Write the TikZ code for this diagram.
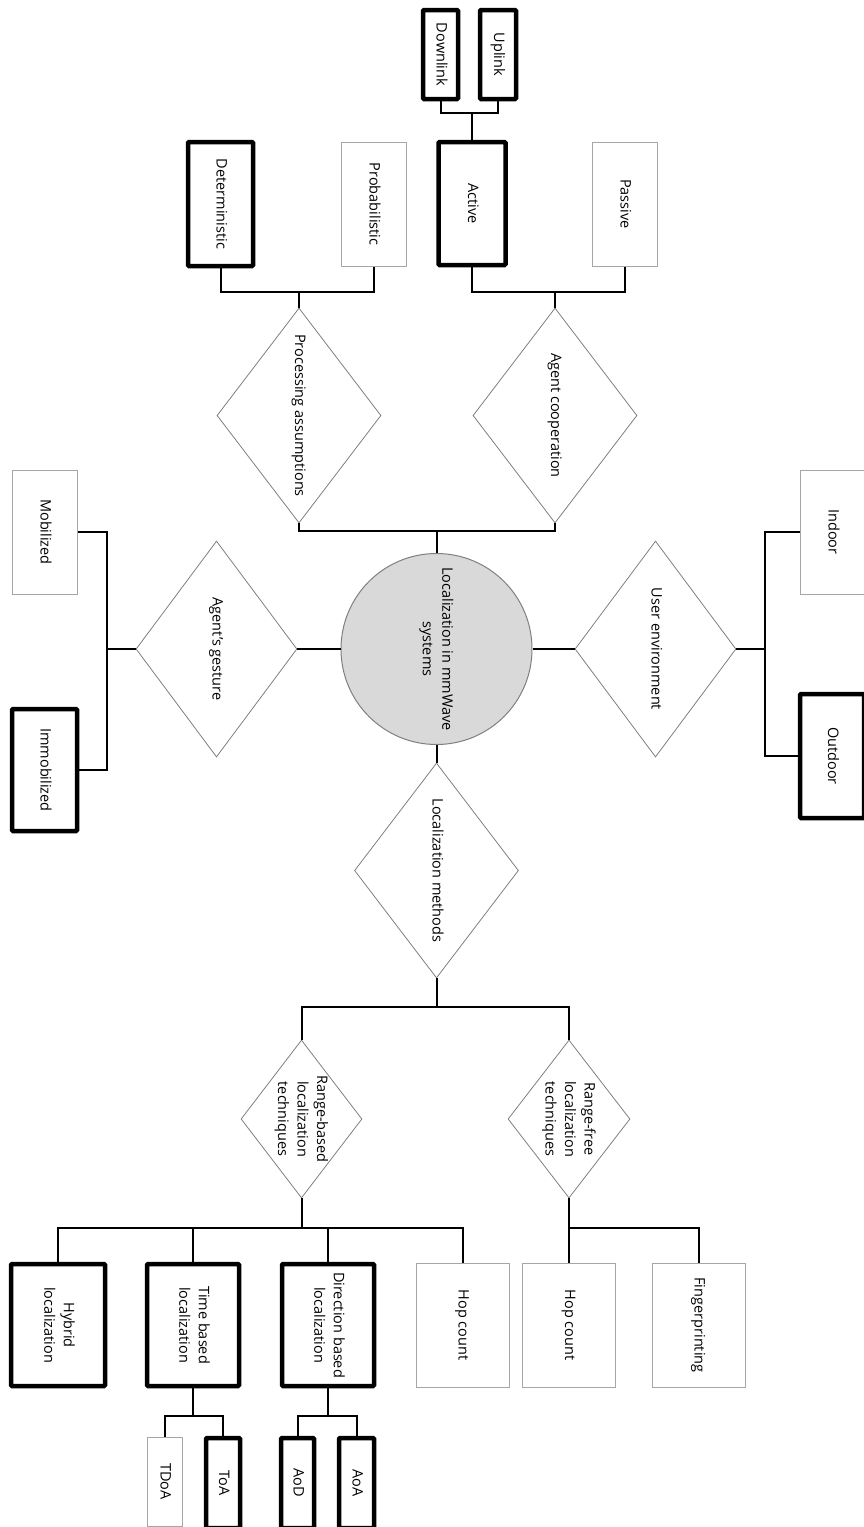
\documentclass[tikz,border=0pt]{standalone}
\usepackage{fontspec}
\setmainfont{Open Sans}
\usepackage{graphicx}
\usetikzlibrary{shapes.geometric}

% text of every node reads top to bottom
\newcommand{\vlabel}[1]{\rotatebox{-90}{\begin{tabular}{@{}c@{}}#1\end{tabular}}}

\begin{document}
\begin{tikzpicture}[x=1pt,y=-1pt,
  every node/.style={inner sep=0pt,font=\fontsize{14.5}{19.5}\selectfont},
  dims/.style 2 args={minimum width=#1pt,minimum height=#2pt},
  thinbox/.style={rectangle,draw=black!35,line width=1pt,fill=white},
  boldbox/.style={rectangle,draw=black,line width=4.5pt,rounded corners=1pt,fill=white},
  choice/.style={diamond,aspect=0.75,draw=black!50,line width=0.8pt,fill=white},
  core/.style={circle,draw=black!50,line width=1pt,fill=black!15,minimum size=191pt},
  link/.style={draw=black,line width=2pt}]
\path[use as bounding box,fill=white] (0,0) rectangle (863,1527);

% centre
\node[core] (core) at (436.5,649) {\vlabel{Localization in mmWave\\systems}};

% top
\node[boldbox,dims={35}{89}] (down) at (440.5,54.5) {\vlabel{Downlink}};
\node[boldbox,dims={36}{89}] (up) at (498,54.5) {\vlabel{Uplink}};
\node[boldbox,dims={67}{123}] (act) at (472,203.5) {\vlabel{Active}};
\node[thinbox,dims={65}{124}] (pas) at (624.5,204) {\vlabel{Passive}};
\node[boldbox,dims={65}{124}] (det) at (220.5,204) {\vlabel{Deterministic}};
\node[thinbox,dims={65}{124}] (prob) at (373.5,204) {\vlabel{Probabilistic}};
\node[choice,dims={164}{215}] (proc) at (299,415.5) {\vlabel{Processing assumptions}};
\node[choice,dims={164}{215}] (coop) at (555,415.5) {\vlabel{Agent cooperation}};

\coordinate (jLink) at (472,113);
\coordinate (jProc) at (299,292);
\coordinate (jCoop) at (555,292);
\coordinate (jTop) at (436.5,531);

\draw[link] (down.south) |- (jLink) -| (up.south);
\draw[link] (jLink) -- (act.north);
\draw[link] (det.south) |- (jProc) -| (prob.south);
\draw[link] (jProc) -- (proc.north);
\draw[link] (act.south) |- (jCoop) -| (pas.south);
\draw[link] (jCoop) -- (coop.north);
\draw[link] (proc.south) |- (jTop) -| (coop.south);
\draw[link] (jTop) -- (core.north);

% left
\node[choice,dims={161}{216}] (gest) at (216.5,649) {\vlabel{Agent’s gesture}};
\node[thinbox,dims={65}{124}] (mob) at (44.5,532) {\vlabel{Mobilized}};
\node[boldbox,dims={65}{122}] (immob) at (44.5,770) {\vlabel{Immobilized}};
\coordinate (jLeft) at (107,649);
\draw[link] (core.west) -- (gest.east);
\draw[link] (gest.west) -- (jLeft);
\draw[link] (mob.east) -| (jLeft) |- (immob.east);

% right
\node[choice,dims={161}{216}] (env) at (655.5,649) {\vlabel{User environment}};
\node[thinbox,dims={65}{124}] (ind) at (832.5,532) {\vlabel{Indoor}};
\node[boldbox,dims={64}{124}] (outd) at (832,756) {\vlabel{Outdoor}};
\coordinate (jRight) at (765,649);
\draw[link] (core.east) -- (env.west);
\draw[link] (env.east) -- (jRight);
\draw[link] (ind.west) -| (jRight) |- (outd.west);

% bottom
\node[choice,dims={164}{215}] (meth) at (436.5,870.5) {\vlabel{Localization methods}};
\node[choice,inner xsep=-5pt,aspect=0.8,dims={121}{158}] (rbased) at (301.5,1119) {\vlabel{Range-based\\localization\\techniques}};
\node[choice,inner xsep=-5pt,aspect=0.8,dims={122}{158}] (rfree) at (569,1119) {\vlabel{Range-free\\localization\\techniques}};
\coordinate (jMeth) at (436.5,1007);
\draw[link] (core.south) -- (meth.north);
\draw[link] (meth.south) -- (jMeth);
\draw[link] (rbased.north) |- (jMeth) -| (rfree.north);

\node[boldbox,dims={94}{122}] (hyb) at (58,1325) {\vlabel{Hybrid\\localization}};
\node[boldbox,dims={92}{122}] (time) at (193,1325) {\vlabel{Time based\\localization}};
\node[boldbox,dims={92}{122}] (dir) at (328,1325) {\vlabel{Direction based\\localization}};
\node[thinbox,dims={93}{124}] (hopa) at (462.5,1325) {\vlabel{Hop count}};
\node[thinbox,dims={93}{124}] (hopb) at (569,1325) {\vlabel{Hop count}};
\node[thinbox,dims={93}{124}] (fing) at (698.5,1325) {\vlabel{Fingerprinting}};
\coordinate (jRB) at (301.5,1228);
\coordinate (jRF) at (569,1228);
\draw[link] (rbased.south) -- (jRB);
\draw[link] (hyb.north) |- (jRB) -| (hopa.north);
\draw[link] (time.north) -- (time.north |- jRB);
\draw[link] (dir.north) -- (dir.north |- jRB);
\draw[link] (rfree.south) -- (hopb.north);
\draw[link] (jRF) -| (fing.north);

\node[thinbox,dims={35}{89}] (tdoa) at (164.5,1481.5) {\vlabel{TDoA}};
\node[boldbox,dims={34}{90}] (toa) at (223,1483) {\vlabel{ToA}};
\node[boldbox,dims={33}{90}] (aod) at (297.5,1483) {\vlabel{AoD}};
\node[boldbox,dims={35}{90}] (aoa) at (356.5,1483) {\vlabel{AoA}};
\coordinate (jTime) at (193,1416);
\coordinate (jDir) at (328,1416);
\draw[link] (time.south) -- (jTime);
\draw[link] (tdoa.north) |- (jTime) -| (toa.north);
\draw[link] (dir.south) -- (jDir);
\draw[link] (aod.north) |- (jDir) -| (aoa.north);
\end{tikzpicture}
\end{document}
